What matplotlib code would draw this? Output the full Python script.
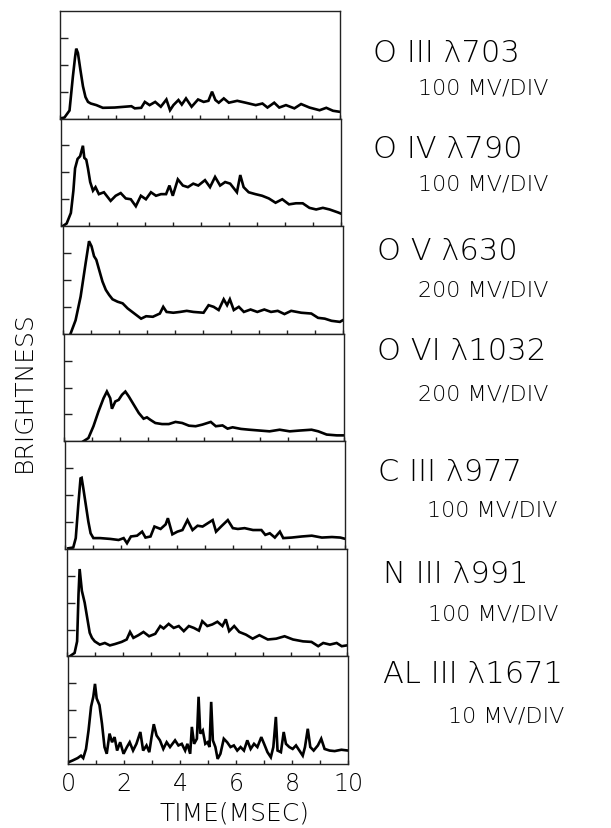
import matplotlib
matplotlib.use("Agg")
import matplotlib.pyplot as plt
import numpy as np

plt.rcParams['font.family'] = ['DejaVu Sans']

# ---------------- data (time in ms, brightness in scope divisions) ----------------
line_names = ["O III λ703", "O IV λ790", "O V λ630", "O VI λ1032",
              "C III λ977", "N III λ991", "AL III λ1671"]
scales = ["100 MV/DIV", "100 MV/DIV", "200 MV/DIV", "200 MV/DIV",
          "100 MV/DIV", "100 MV/DIV", "10 MV/DIV"]

t_oiii = [0, 0.16, 0.34, 0.46, 0.54, 0.58, 0.64, 0.73, 0.82, 0.91, 1.0, 1.1, 1.3, 1.53, 1.95,
          2.55, 2.67, 2.9, 3.03, 3.2, 3.4, 3.6, 3.8, 3.93, 4.05, 4.23, 4.35, 4.5, 4.7, 4.93,
          5.13, 5.3, 5.43, 5.55, 5.67, 5.85, 6.03, 6.33, 6.63, 6.99, 7.23, 7.41, 7.65, 7.83,
          8.07, 8.37, 8.61, 8.91, 9.27, 9.51, 9.75, 10]
b_oiii = [0, 0.04, 0.3, 1.56, 2.3, 2.6, 2.44, 1.8, 1.2, 0.8, 0.62, 0.56, 0.5, 0.4, 0.41,
          0.46, 0.38, 0.4, 0.62, 0.5, 0.62, 0.44, 0.71, 0.31, 0.5, 0.69, 0.52, 0.75, 0.44, 0.71,
          0.62, 0.66, 1.0, 0.69, 0.59, 0.75, 0.59, 0.66, 0.59, 0.5, 0.56, 0.41, 0.59, 0.41,
          0.5, 0.38, 0.54, 0.41, 0.31, 0.4, 0.29, 0.25]

t_oiv = [0.05, 0.19, 0.34, 0.43, 0.49, 0.58, 0.67, 0.77, 0.82, 0.89, 0.95, 1.03, 1.13, 1.22,
         1.34, 1.52, 1.76, 1.94, 2.12, 2.3, 2.48, 2.66, 2.84, 3.02, 3.2, 3.38, 3.56, 3.74, 3.86,
         3.98, 4.16, 4.34, 4.52, 4.71, 4.89, 5.13, 5.31, 5.49, 5.67, 5.85, 6.03, 6.27, 6.39,
         6.51, 6.69, 6.93, 7.17, 7.41, 7.65, 7.89, 8.13, 8.38, 8.62, 8.86, 9.1, 9.34, 9.58,
         9.88, 10]
b_oiv = [0, 0.1, 0.49, 1.32, 2.15, 2.5, 2.6, 2.99, 2.54, 2.47, 2.15, 1.64, 1.32, 1.45,
         1.19, 1.26, 0.94, 1.13, 1.23, 1.03, 1.0, 0.74, 1.13, 1.0, 1.26, 1.13, 1.19, 1.19, 1.51,
         1.13, 1.74, 1.51, 1.45, 1.58, 1.51, 1.71, 1.45, 1.83, 1.51, 1.64, 1.58, 1.26, 1.9,
         1.45, 1.26, 1.19, 1.13, 1.03, 0.87, 1.0, 0.81, 0.85, 0.85, 0.68, 0.62, 0.68, 0.62,
         0.51, 0.46]

t_ov = [0.28, 0.46, 0.64, 0.82, 0.94, 1.03, 1.12, 1.2, 1.3, 1.42, 1.54, 1.66, 1.78, 1.96, 2.14,
        2.32, 2.56, 2.8, 2.98, 3.22, 3.47, 3.59, 3.71, 3.95, 4.19, 4.43, 4.67, 5.03, 5.21, 5.39,
        5.57, 5.75, 5.87, 5.97, 6.11, 6.29, 6.47, 6.71, 6.95, 7.2, 7.44, 7.68, 7.92, 8.16,
        8.52, 8.88, 9.12, 9.36, 9.6, 9.9, 10]
b_ov = [0, 0.5, 1.38, 2.63, 3.44, 3.25, 2.88, 2.75, 2.38, 1.94, 1.63, 1.44, 1.28, 1.19, 1.13,
        0.94, 0.75, 0.56, 0.65, 0.63, 0.75, 1.0, 0.81, 0.78, 0.81, 0.85, 0.81, 0.78, 1.06, 1.0,
        0.88, 1.28, 1.06, 1.28, 0.88, 1.0, 0.81, 0.9, 0.81, 0.9, 0.81, 0.85, 0.73, 0.85,
        0.78, 0.75, 0.59, 0.56, 0.48, 0.44, 0.5]

t_ovi = [0.69, 0.87, 1.05, 1.23, 1.41, 1.53, 1.65, 1.71, 1.83, 1.95, 2.07, 2.19, 2.31, 2.49,
         2.67, 2.84, 2.96, 3.08, 3.26, 3.5, 3.74, 3.98, 4.22, 4.46, 4.7, 4.94, 5.24, 5.42, 5.66,
         5.84, 6.02, 6.32, 6.62, 6.98, 7.34, 7.7, 8.06, 8.42, 8.84, 9.08, 9.38, 9.74, 10]
b_ovi = [0, 0.12, 0.56, 1.11, 1.6, 1.85, 1.6, 1.21, 1.48, 1.54, 1.73, 1.85, 1.67, 1.36,
         1.05, 0.84, 0.89, 0.8, 0.68, 0.64, 0.64, 0.72, 0.68, 0.58, 0.56, 0.62, 0.72, 0.56, 0.59,
         0.47, 0.52, 0.46, 0.43, 0.4, 0.37, 0.43, 0.37, 0.4, 0.43, 0.37, 0.25, 0.22, 0.22]

t_ciii = [0.1, 0.28, 0.37, 0.46, 0.54, 0.58, 0.64, 0.73, 0.82, 0.9, 1.0, 1.24, 1.6, 1.9, 2.08,
          2.2, 2.34, 2.56, 2.74, 2.86, 3.04, 3.18, 3.4, 3.58, 3.66, 3.82, 4.0, 4.18, 4.36, 4.54,
          4.72, 4.9, 5.08, 5.26, 5.38, 5.56, 5.8, 5.98, 6.16, 6.4, 6.7, 7.0, 7.14, 7.3, 7.48,
          7.66, 7.78, 8.08, 8.44, 8.8, 9.16, 9.52, 9.82, 10]
b_ciii = [0.02, 0.05, 0.4, 1.63, 2.62, 2.64, 2.25, 1.63, 1.01, 0.58, 0.4, 0.4, 0.37, 0.33, 0.4,
          0.21, 0.46, 0.49, 0.64, 0.42, 0.46, 0.83, 0.74, 0.91, 1.14, 0.54, 0.64, 0.7, 1.07, 0.7,
          0.86, 0.83, 0.95, 1.07, 0.64, 0.83, 1.07, 0.77, 0.74, 0.77, 0.7, 0.7, 0.52, 0.58, 0.42,
          0.64, 0.4, 0.42, 0.46, 0.49, 0.42, 0.44, 0.42, 0.37]

t_niii = [0.1, 0.28, 0.37, 0.42, 0.46, 0.54, 0.64, 0.73, 0.82, 0.9, 1.0, 1.18, 1.36, 1.54, 1.72,
          1.96, 2.14, 2.26, 2.38, 2.56, 2.74, 2.94, 3.16, 3.34, 3.46, 3.64, 3.82, 4.0, 4.18,
          4.36, 4.54, 4.72, 4.84, 5.02, 5.2, 5.38, 5.56, 5.68, 5.8, 5.98, 6.16, 6.4, 6.64, 6.88,
          7.18, 7.48, 7.78, 8.08, 8.44, 8.74, 8.98, 9.16, 9.4, 9.64, 9.82, 10]
b_niii = [0, 0.13, 0.56, 2.31, 3.25, 2.44, 2.0, 1.44, 0.88, 0.69, 0.56, 0.44, 0.5, 0.41, 0.46,
          0.54, 0.63, 0.91, 0.69, 0.79, 0.91, 0.75, 0.84, 1.13, 1.04, 1.21, 1.06, 1.13, 0.94,
          1.13, 1.06, 0.96, 1.31, 1.13, 1.19, 1.29, 1.13, 1.38, 0.94, 1.13, 0.91, 0.81, 0.66, 0.79,
          0.63, 0.66, 0.75, 0.63, 0.56, 0.54, 0.38, 0.5, 0.44, 0.5, 0.38, 0.41]

t_aliii = [0, 0.16, 0.34, 0.46, 0.54, 0.64, 0.73, 0.82, 0.9, 0.96, 1.02, 1.12, 1.21, 1.3, 1.38,
           1.48, 1.57, 1.66, 1.75, 1.86, 1.98, 2.1, 2.2, 2.32, 2.44, 2.58, 2.68, 2.8, 2.9, 2.98,
           3.06, 3.16, 3.28, 3.4, 3.52, 3.64, 3.82, 3.94, 4.06, 4.18, 4.26, 4.36, 4.42, 4.5, 4.6,
           4.66, 4.72, 4.81, 4.9, 4.98, 5.05, 5.11, 5.17, 5.26, 5.34, 5.44, 5.56, 5.68, 5.8, 5.92,
           6.04, 6.16, 6.28, 6.4, 6.52, 6.64, 6.76, 6.9, 7.0, 7.12, 7.24, 7.33, 7.42, 7.48, 7.6,
           7.7, 7.78, 7.9, 8.02, 8.14, 8.26, 8.38, 8.46, 8.56, 8.65, 8.77, 8.92, 9.04, 9.16, 9.34,
           9.52, 9.76, 10]
b_aliii = [0.06, 0.13, 0.22, 0.31, 0.22, 0.56, 1.25, 2.13, 2.5, 2.98, 2.44, 2.19, 1.5, 0.63, 0.38,
           1.13, 0.81, 1.0, 0.5, 0.81, 0.38, 0.63, 0.81, 0.5, 0.75, 1.19, 0.5, 0.69, 0.44, 1.0,
           1.48, 1.06, 0.88, 0.56, 0.81, 0.63, 0.88, 0.69, 0.75, 0.5, 0.75, 0.38, 1.38, 0.75, 0.94,
           2.5, 1.13, 1.25, 0.75, 0.81, 0.63, 2.31, 0.88, 0.63, 0.19, 0.38, 0.94, 0.81, 0.63, 0.69,
           0.5, 0.63, 0.5, 0.88, 0.56, 0.75, 0.63, 1.0, 0.75, 0.44, 0.25, 0.63, 1.75, 0.5, 0.44,
           1.19, 0.75, 0.63, 0.56, 0.69, 0.5, 0.31, 0.63, 1.31, 0.63, 0.5, 0.69, 0.94, 0.56, 0.5,
           0.48, 0.53, 0.5]

times = [t_oiii, t_oiv, t_ov, t_ovi, t_ciii, t_niii, t_aliii]
values = [b_oiii, b_oiv, b_ov, b_ovi, b_ciii, b_niii, b_aliii]

# ---------------- layout ----------------
W, H = 611, 829
fig = plt.figure(figsize=(W / 100, H / 100), dpi=100)

top_px, bot_px = 12, 765
n = len(times)
ph = (bot_px - top_px) / n
pw = 280

name_pos = [(373, 53), (373, 150), (377, 252), (377, 352), (378, 473), (383, 575), (383, 675)]
scale_pos = [(418, 89), (418, 185), (418, 291), (418, 394), (427, 511), (428, 615), (448, 716)]

for i in range(n):
    left_px = 60 + i * 1.35
    y0 = top_px + (i + 1) * ph
    ax = fig.add_axes([left_px / W, 1 - y0 / H, pw / W, ph / H])
    ax.plot(times[i], values[i], color='black', lw=1.9, solid_joinstyle='miter')
    ax.set_xlim(0, 10)
    ax.set_ylim(0, 4)
    for s in ax.spines.values():
        s.set_linewidth(1.0)
        s.set_color('#222222')
    ax.set_yticks([1, 2, 3])
    ax.set_yticklabels([])
    ax.tick_params(axis='y', direction='in', length=6, width=1.0, color='#222222')
    ax.set_xticks(range(0, 11))
    if i == n - 1:
        ax.set_xticklabels(['0', '', '2', '', '4', '', '6', '', '8', '', '10'],
                           fontsize=17, fontweight='light')
        ax.tick_params(axis='x', direction='in', length=3, width=1.0, pad=5, color='#222222')
    else:
        ax.set_xticklabels([])
        ax.tick_params(axis='x', direction='in', length=3, width=1.0, color='#222222')

    fig.text(name_pos[i][0] / W, 1 - name_pos[i][1] / H, line_names[i],
             fontsize=22, fontweight='light', ha='left', va='center')
    fig.text(scale_pos[i][0] / W, 1 - scale_pos[i][1] / H, scales[i],
             fontsize=16, fontweight='light', ha='left', va='center')

fig.text(235 / W, 1 - 814 / H, "TIME(MSEC)", fontsize=18, fontweight='light',
         ha='center', va='center')
fig.text(24 / W, 1 - 392 / H, "BRIGHTNESS", fontsize=18, fontweight='light',
         ha='center', va='center', rotation=90)

fig.savefig("out.png", dpi=100, facecolor='white')
